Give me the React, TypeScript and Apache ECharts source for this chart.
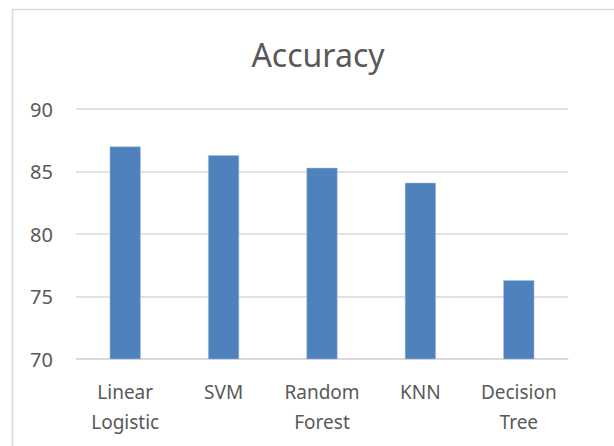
import React, { useEffect, useRef } from "react";
import * as echarts from "echarts";

const categories = ["Linear\nLogistic", "SVM", "Random\nForest", "KNN", "Decision\nTree"];
const accuracy = [87.0, 86.3, 85.3, 84.1, 76.3];
const yTicks = { min: 70, max: 90, interval: 5 };

export default function App() {
  const ref = useRef<HTMLDivElement>(null);
  useEffect(() => {
    if (!ref.current) return;
    const chart = echarts.init(ref.current, null, { renderer: "svg" });
    const font = "Noto Sans";
    chart.setOption({
      animation: false,
      backgroundColor: "#ffffff",
      title: {
        text: "Accuracy",
        left: 313,
        textAlign: "center",
        top: 33,
        textStyle: { fontFamily: font, fontSize: 32, fontWeight: "normal", color: "#595959" },
      },
      graphic: [
        {
          type: "rect",
          shape: { x: 12.5, y: 9.5, width: 700, height: 500 },
          style: { fill: "none", stroke: "#d9d9d9", lineWidth: 1.5 },
          silent: true,
        },
      ],
      grid: { left: 76, right: 46, top: 109, bottom: 87 },
      xAxis: {
        type: "category",
        data: categories,
        axisLine: { lineStyle: { color: "#d9d9d9", width: 1.5 } },
        axisTick: { show: false },
        axisLabel: {
          fontFamily: font,
          fontSize: 19,
          color: "#595959",
          lineHeight: 30,
          margin: 18,
          interval: 0,
        },
      },
      yAxis: {
        type: "value",
        min: yTicks.min,
        max: yTicks.max,
        interval: yTicks.interval,
        axisLine: { show: false },
        axisTick: { show: false },
        splitLine: { lineStyle: { color: "#d9d9d9", width: 1.5 } },
        axisLabel: { fontFamily: font, fontSize: 20, color: "#595959", margin: 23 },
      },
      series: [
        {
          type: "bar",
          data: accuracy,
          barWidth: "31.5%",
          itemStyle: { color: "#4f81bd", borderColor: "#a9c2e3", borderWidth: 0.5 },
        },
      ],
    });
    return () => chart.dispose();
  }, []);
  return (
    <div
      ref={ref}
      style={{ position: "fixed", left: 0, top: 0, width: 614, height: 446 }}
    />
  );
}
